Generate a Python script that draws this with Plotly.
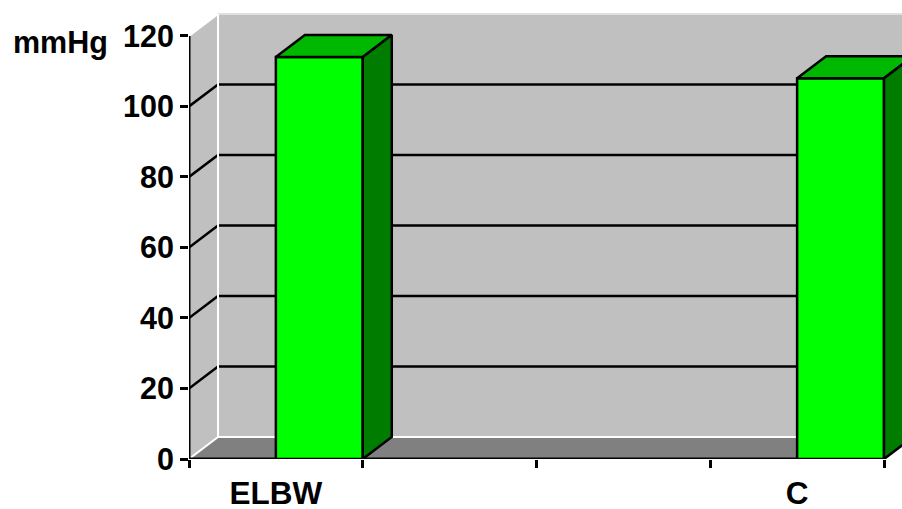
import plotly.graph_objects as go

# ---- data ----
categories = ["ELBW", "", "", "C"]
values = [114, None, None, 108]
y_ticks = [0, 20, 40, 60, 80, 100, 120]
y_label = "mmHg"

# ---- geometry / style ----
DX = 0.167      # 3D depth offset in x units
DY = 6.24       # 3D depth offset in y units
n = len(categories)
XMAX = 4.1036
YMAX = 126.5
YTOP = y_ticks[-1]
FONT = "Liberation Sans, Arial, sans-serif"
LW = 2.5

fig = go.Figure()
shapes = []


def poly(pts, fill):
    path = "M " + " L ".join(f"{x},{y}" for x, y in pts) + " Z"
    return dict(type="path", path=path, xref="x", yref="y", fillcolor=fill,
                line=dict(width=0), layer="below")


def seg(x0, y0, x1, y1, color, width):
    return dict(type="line", x0=x0, y0=y0, x1=x1, y1=y1, xref="x", yref="y",
                line=dict(color=color, width=width), layer="below")


# walls and floor
shapes.append(poly([(DX, DY), (n + DX, DY), (n + DX, YTOP + DY), (DX, YTOP + DY)], "#C0C0C0"))
shapes.append(poly([(0, 0), (DX, DY), (DX, YTOP + DY), (0, YTOP)], "#C0C0C0"))
shapes.append(poly([(0, 0), (n, 0), (n + DX, DY), (DX, DY)], "#808080"))

# gridlines on side and back walls
for v in y_ticks[1:-1]:
    shapes.append(seg(0, v, DX, v + DY, "black", LW))
    shapes.append(seg(DX, v + DY, n + DX, v + DY, "black", LW))

# white wall edges
shapes.append(seg(0, YTOP, DX, YTOP + DY, "white", 2))
shapes.append(seg(DX, YTOP + DY, n + DX, YTOP + DY, "#E0E0E0", 2))
shapes.append(seg(DX, DY, DX, YTOP + DY, "white", 2))
shapes.append(seg(0, 0, DX, DY, "white", 2))
shapes.append(seg(DX, DY, n + DX, DY, "white", 2))

# axis lines
shapes.append(seg(0, 0, 0, YTOP, "black", 3))
shapes.append(seg(0, 0, n, 0, "black", 3))

# bars (front faces)
bx, by = [], []
for i, v in enumerate(values):
    if v is not None:
        bx.append(i + 0.75)
        by.append(v)
fig.add_trace(go.Bar(x=bx, y=by, width=0.5, marker=dict(color="#00FF00", line=dict(color="black", width=LW)),
                     hoverinfo="skip"))

# 3D top and side faces
for i, v in enumerate(values):
    if v is None:
        continue
    x0, x1 = i + 0.5, i + 1.0
    fig.add_trace(go.Scatter(x=[x0, x1, x1 + DX, x0 + DX, x0], y=[v, v, v + DY, v + DY, v],
                             fill="toself", fillcolor="#00B800", mode="lines",
                             line=dict(color="black", width=LW), hoverinfo="skip"))
    fig.add_trace(go.Scatter(x=[x1, x1 + DX, x1 + DX, x1, x1], y=[0, DY, v + DY, v, 0],
                             fill="toself", fillcolor="#007C00", mode="lines",
                             line=dict(color="black", width=LW), hoverinfo="skip"))

fig.update_layout(
    width=902, height=509,
    margin=dict(l=189, r=0, t=13, b=50, autoexpand=False),
    plot_bgcolor="white", paper_bgcolor="white",
    showlegend=False,
    shapes=shapes,
    font=dict(family=FONT, color="black"),
    xaxis=dict(range=[0, XMAX], tickvals=[i + 0.5 for i in range(n)], ticktext=categories,
               ticks="", showgrid=False, zeroline=False, showline=False, automargin=False,
               tickfont=dict(size=31.5, weight="bold", family=FONT, color="black"),
               ticklabelstandoff=12,
               minor=dict(tickvals=list(range(n + 1)), ticks="outside", ticklen=8,
                          tickwidth=2.5, tickcolor="black", showgrid=False)),
    yaxis=dict(range=[0, YMAX], tickvals=y_ticks, ticks="outside", ticklen=8, tickwidth=2.5,
               tickcolor="black", showgrid=False, zeroline=False, showline=False, automargin=False,
               tickfont=dict(size=30.5, weight="bold", family=FONT, color="black")),
    annotations=[dict(text=y_label, xref="paper", yref="y", x=(60 - 189) / 713, y=118,
                      xanchor="center", yanchor="middle", showarrow=False,
                      font=dict(size=30.5, weight="bold", family=FONT, color="black"))],
)

fig.write_html("out.html")
